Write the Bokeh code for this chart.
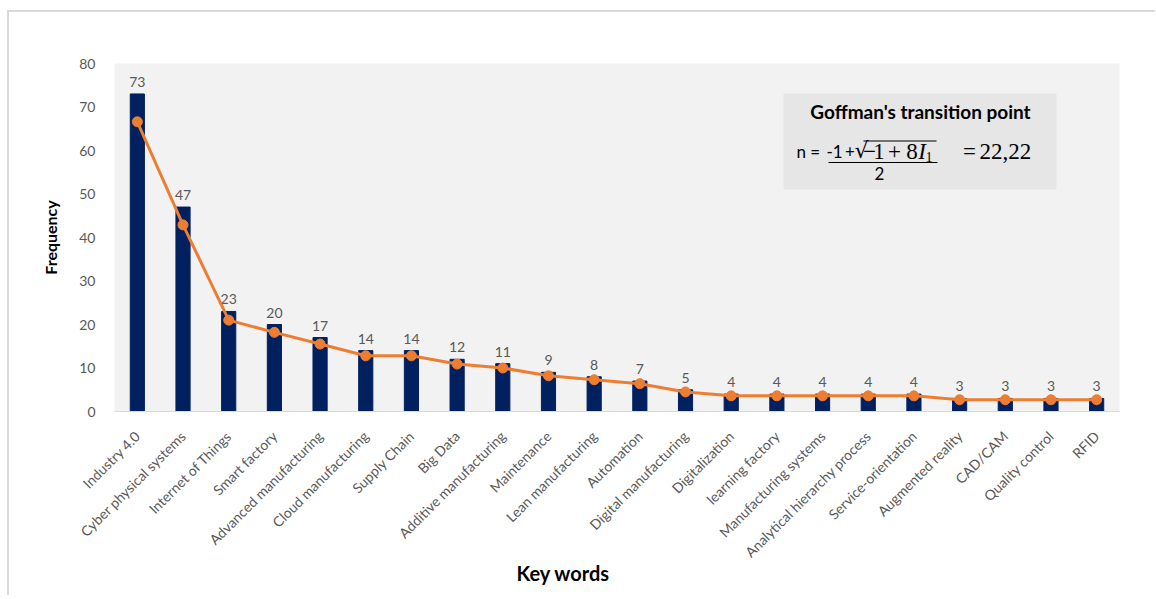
import math
from bokeh.plotting import figure
from bokeh.models import Label, ColumnDataSource, FactorRange, Range1d, FixedTicker, Title
from bokeh.core.properties import value
from bokeh.embed import file_html
from bokeh.resources import INLINE

keywords = ["Industry 4.0", "Cyber physical systems", "Internet of Things", "Smart factory",
            "Advanced manufacturing", "Cloud manufacturing", "Supply Chain", "Big Data",
            "Additive manufacturing", "Maintenance", "Lean manufacturing", "Automation",
            "Digital manufacturing", "Digitalization", "learning factory",
            "Manufacturing systems", "Analytical hierarchy process", "Service-orientation",
            "Augmented reality", "CAD/CAM", "Quality control", "RFID"]
frequency = [73, 47, 23, 20, 17, 14, 14, 12, 11, 9, 8, 7, 5, 4, 4, 4, 4, 4, 3, 3, 3, 3]
trend = [66.6, 42.9, 21.0, 18.2, 15.5, 12.8, 12.8, 10.9, 10.0, 8.2, 7.3, 6.4, 4.5,
         3.6, 3.6, 3.6, 3.6, 3.6, 2.7, 2.7, 2.7, 2.7]
y_ticks = [0, 10, 20, 30, 40, 50, 60, 70, 80]

BAR = "#002060"
ORANGE = "#ED7D31"
GRAY = "#595959"

src = ColumnDataSource(dict(k=keywords, f=frequency, t=trend,
                            lab=[str(v) for v in frequency]))

p = figure(width=1148, height=585, x_range=FactorRange(*keywords), y_range=Range1d(0, 80),
           output_backend="svg", toolbar_location=None,
           min_border_left=105, min_border_right=38, min_border_top=51, min_border_bottom=186)
p.styles = {"margin-left": "7px", "margin-top": "10px",
            "border-top": "2px solid #d9d9d9", "border-left": "2px solid #d9d9d9"}
p.background_fill_color = "#f2f2f2"
p.border_fill_color = "white"
p.outline_line_color = None
p.xgrid.grid_line_color = None
p.ygrid.grid_line_color = None

p.vbar(x="k", top="f", width=0.31, source=src, fill_color=BAR, line_color=BAR)
p.text(x="k", y="f", text="lab", source=src, text_align="center", text_baseline="bottom",
       y_offset=-7, text_font=value("Lato"), text_font_size="14px", text_color=GRAY)
p.line(x="k", y="t", source=src, line_color=ORANGE, line_width=3)
p.scatter(x="k", y="t", source=src, size=10, fill_color=ORANGE, line_color=ORANGE)

p.yaxis.ticker = FixedTicker(ticks=y_ticks)
p.yaxis.axis_line_color = None
p.yaxis.major_tick_line_color = None
p.yaxis.minor_tick_line_color = None
p.yaxis.major_label_text_font = "Lato"
p.yaxis.major_label_text_font_size = "14px"
p.yaxis.major_label_text_color = GRAY
p.yaxis.major_label_standoff = 13
p.yaxis.axis_label = "Frequency"
p.yaxis.axis_label_text_font = "Lato"
p.yaxis.axis_label_text_font_style = "bold"
p.yaxis.axis_label_text_font_size = "16px"
p.yaxis.axis_label_text_color = "black"
p.yaxis.axis_label_standoff = 16

p.xaxis.axis_line_color = "#d9d9d9"
p.xaxis.major_tick_line_color = None
p.xaxis.minor_tick_line_color = None
p.xaxis.major_label_orientation = math.pi / 4
p.xaxis.major_label_text_font = "Lato"
p.xaxis.major_label_text_font_size = "14px"
p.xaxis.major_label_text_color = GRAY
p.xaxis.major_label_standoff = 16

p.add_layout(Title(text="Key words", align="left", offset=402, standoff=-22,
                   text_font="Lato", text_font_style="bold", text_font_size="20px",
                   text_color="black"), "below")


# annotation helpers: page pixel -> data coordinates
def ux(px):
    return (px - 115) / 1005 * 22


def vy(py):
    return (412 - py) / 348 * 80


def lab(text, px, py, size, font="Lato", style="normal", align="left", color="black"):
    p.add_layout(Label(x=ux(px), y=vy(py), text=text, text_font=font, text_font_style=style,
                       text_font_size=size, text_align=align, text_baseline="middle",
                       text_color=color))


SERIF = "Liberation Serif"
p.quad(left=ux(784), right=ux(1057), top=vy(94), bottom=vy(190),
       fill_color="#e6e6e6", line_color=None)
lab("Goffman's transition point", 921, 112, "19px", style="bold", align="center")
lab("n =", 797, 152, "17px")
lab("-1", 827, 152, "17px")
lab("+", 850.5, 152, "17px", align="center")
lab("\u221a", 855, 151, "22px", font="DejaVu Serif")
lab("\u2212", 870, 152, "23px", font=SERIF, align="center")
lab("1", 879.5, 152, "23px", font=SERIF, align="center")
lab("+", 895, 152, "23px", font=SERIF, align="center")
lab("8", 912.5, 152, "23px", font=SERIF, align="center")
lab("I", 922.5, 152, "23px", font=SERIF, style="italic", align="center")
lab("1", 929.5, 157, "14px", font=SERIF, align="center")
lab("=", 970, 152, "23px", font=SERIF, align="center")
lab("22,22", 980, 152, "23px", font=SERIF)
lab("2", 880, 174, "17px", align="center")
p.segment(x0=[ux(864)], y0=[vy(141.5)], x1=[ux(937)], y1=[vy(141.5)], line_color="black", line_width=1.2)
p.segment(x0=[ux(829)], y0=[vy(163)], x1=[ux(938)], y1=[vy(163)], line_color="black", line_width=1.2)

open("out.html", "w").write(file_html(p, INLINE))
